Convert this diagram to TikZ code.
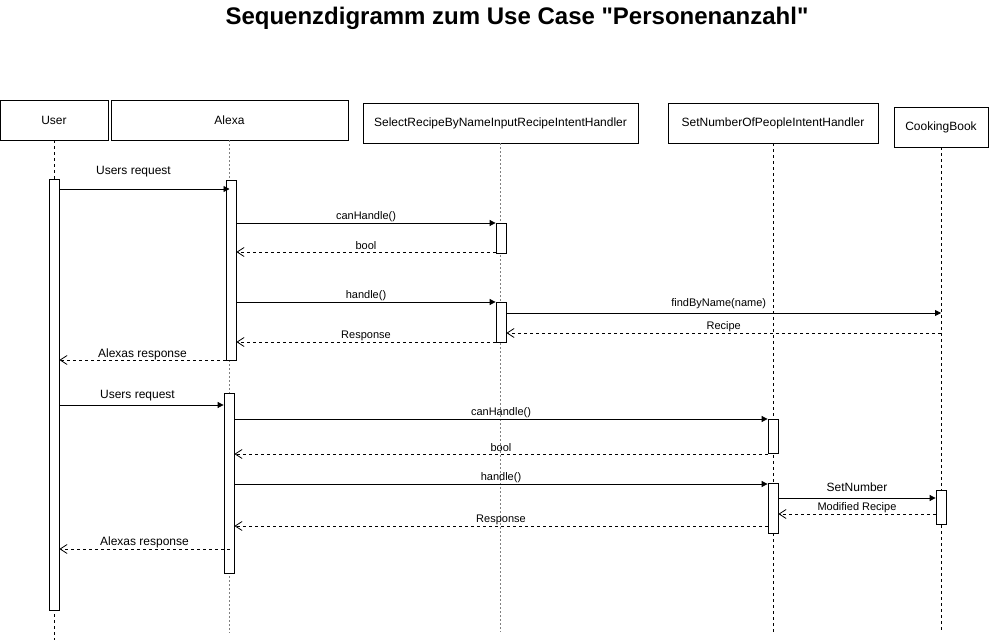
\documentclass[tikz,border=0pt]{standalone}
\usepackage{fontspec}
\setmainfont{Liberation Sans}
\usetikzlibrary{arrows.meta}
\begin{document}
\begin{tikzpicture}[x=1pt,y=-1pt,
    head/.style={draw,line width=0.8pt,minimum height=40pt,inner sep=0pt,font=\fontsize{12}{14}\selectfont},
    act/.style={draw,fill=white,line width=0.8pt,minimum width=10pt,inner sep=0pt},
    life/.style={line width=0.8pt,dash pattern=on 3pt off 3pt},
    grey life/.style={gray,line width=1.4pt,dash pattern=on 2pt off 2pt},
    call/.style={line width=0.8pt,-{Triangle[length=6pt,width=6pt]}},
    reply/.style={line width=0.8pt,dash pattern=on 3pt off 3pt,-{Straight Barb[length=7pt,width=9pt]}},
    lbl/.style={font=\fontsize{11}{13}\selectfont,inner sep=0pt},
    biglbl/.style={font=\fontsize{12}{14}\selectfont,inner sep=0pt}]
      \useasboundingbox (0,0) rectangle (989,644);
      \node[font=\bfseries\fontsize{24}{28}\selectfont] (title) at (517,18) {Sequenzdigramm zum Use Case \textquotedbl Personenanzahl\textquotedbl};
      \draw
        (54,120) node[head,minimum width=108pt] (user){User}
        (229.5,120) node[head,minimum width=237pt] (alexa){Alexa}
        (500.5,123) node[head,minimum width=275pt] (select){SelectRecipeByNameInputRecipeIntentHandler}
        (773,123) node[head,minimum width=210pt] (setnum){SetNumberOfPeopleIntentHandler}
        (941,127) node[head,minimum width=94pt] (cook){CookingBook};
      % lifelines
      \draw[life] (user.south) -- ++(0,500);
      \draw[grey life] (alexa.south) -- ++(0,493);
      \draw[grey life] (select.south) -- ++(0,489);
      \draw[life] (setnum.south) -- ++(0,489);
      \draw[life] (cook.south) -- ++(0,485);
      % activations
      \node[act,minimum height=431pt] (uact) at (54,394.5) {};
      \node[act,minimum height=180pt] (aact1) at (231,270) {};
      \node[act,minimum height=180pt] (aact2) at (229,483) {};
      \node[act,minimum height=30pt] (sact1) at (501,238) {};
      \node[act,minimum height=40pt] (sact2) at (501,322) {};
      \node[act,minimum height=34pt] (nact1) at (773,436) {};
      \node[act,minimum height=50pt] (nact2) at (773,508) {};
      \node[act,minimum height=34pt] (cact) at (941,507) {};
      % first request
      \draw[call] (uact.east |- 0,189) -- node[biglbl,xshift=-11pt,yshift=17pt]{Users request} (alexa.south |- 0,189);
      \draw[call] (aact1.east |- 0,223) -- node[lbl,yshift=6pt]{canHandle()} (sact1.west |- 0,223);
      \draw[reply] (sact1.west |- 0,252) -- node[lbl,yshift=6pt]{bool} (aact1.east |- 0,252);
      \draw[call] (aact1.east |- 0,302) -- node[lbl,yshift=6pt]{handle()} (sact2.west |- 0,302);
      \draw[call] (sact2.east |- 0,313) -- node[lbl,xshift=-5pt,yshift=9pt]{findByName(name)} (cook.south |- 0,313);
      \draw[reply] (cook.south |- 0,333) -- node[lbl,yshift=6pt]{Recipe} (sact2.east |- 0,333);
      \draw[reply] (sact2.west |- 0,342) -- node[lbl,yshift=6pt]{Response} (aact1.east |- 0,342);
      \draw[reply] (aact1.west |- 0,360) -- node[biglbl,yshift=6pt]{Alexas response} (uact.east |- 0,360);
      % second request
      \draw[call] (uact.east |- 0,405) -- node[biglbl,xshift=-4pt,yshift=9pt]{Users request} (aact2.west |- 0,405);
      \draw[call] (aact2.east |- 0,419) -- node[lbl,yshift=6pt]{canHandle()} (nact1.west |- 0,419);
      \draw[reply] (nact1.west |- 0,454) -- node[lbl,yshift=6pt]{bool} (aact2.east |- 0,454);
      \draw[call] (aact2.east |- 0,484) -- node[lbl,yshift=6pt]{handle()} (nact2.west |- 0,484);
      \draw[call] (nact2.east |- 0,498) -- node[biglbl,yshift=11pt]{SetNumber} (cact.west |- 0,498);
      \draw[reply] (cact.west |- 0,514) -- node[lbl,yshift=6pt]{Modified Recipe} (nact2.east |- 0,514);
      \draw[reply] (nact2.west |- 0,526) -- node[lbl,yshift=6pt]{Response} (aact2.east |- 0,526);
      \draw[reply] (alexa.south |- 0,549) -- node[biglbl,yshift=7pt]{Alexas response} (uact.east |- 0,549);
    \end{tikzpicture}
\end{document}
